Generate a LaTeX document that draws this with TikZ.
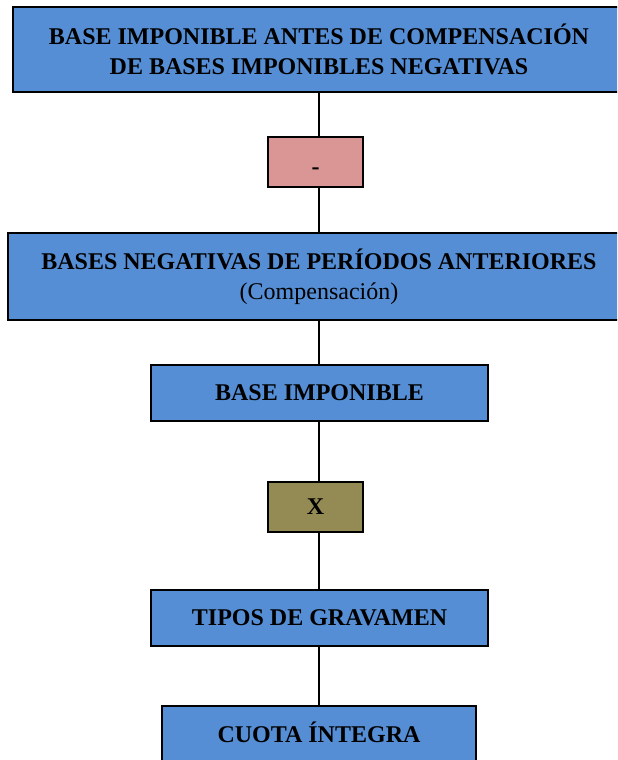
\documentclass[tikz,border=0pt]{standalone}
\usepackage{fontspec}
\setmainfont{Liberation Serif}
\usepackage{tikz}
\usetikzlibrary{positioning}

\definecolor{azulcaja}{HTML}{558ED5}
\definecolor{rosacaja}{HTML}{D99694}
\definecolor{olivacaja}{HTML}{948A54}

\begin{document}
\begin{tikzpicture}[x=0.5pt,y=-0.5pt]

% Stili delle caselle
\tikzset{caja/.style={draw=black, line width=0.9pt, fill=azulcaja, align=center, inner sep=0pt,
    font=\fontsize{12}{15}\selectfont\bfseries},
  operador/.style={caja, minimum width=47.5pt, minimum height=25pt},
  enlace/.style={line width=0.9pt}}

\clip (0,0) rectangle (617,760);

% --- Parte superiore: base prima della compensazione ---
\node[caja, minimum width=306pt, minimum height=42.5pt] (antes) at (319,49.5)
  {BASE IMPONIBLE ANTES DE COMPENSACIÓN\\DE BASES IMPONIBLES NEGATIVAS};
\node[operador, fill=rosacaja] (menos) at (315.5,162) {\smash{\raisebox{-6pt}{-}}};
\node[caja, minimum width=311pt, minimum height=43.5pt] (negativas) at (319,276.5)
  {BASES NEGATIVAS DE PERÍODOS ANTERIORES\\{\mdseries (Compensación)}};

% --- Parte inferiore: base e quota ---
\node[caja, minimum width=168.5pt, minimum height=28pt] (base) at (319.5,393) {BASE IMPONIBLE};
\node[operador, fill=olivacaja] (por) at (315.5,507) {X};
\node[caja, minimum width=168.5pt, minimum height=28pt] (tipos) at (319.5,618) {TIPOS DE GRAVAMEN};
\node[caja, minimum width=157pt, minimum height=28pt] (cuota) at (319,734) {\raisebox{1.5pt}{CUOTA ÍNTEGRA}};

% Linee di collegamento
\draw[enlace] (antes.south) -- (antes.south |- menos.north);
\draw[enlace] (menos.south -| antes.south) -- (negativas.north);
\draw[enlace] (negativas.south) -- (negativas.south |- base.north);
\draw[enlace] (base.south -| negativas.south) -- (por.north -| negativas.south);
\draw[enlace] (por.south -| negativas.south) -- (tipos.north -| negativas.south);
\draw[enlace] (tipos.south -| negativas.south) -- (cuota.north -| negativas.south);

\end{tikzpicture}
\end{document}
